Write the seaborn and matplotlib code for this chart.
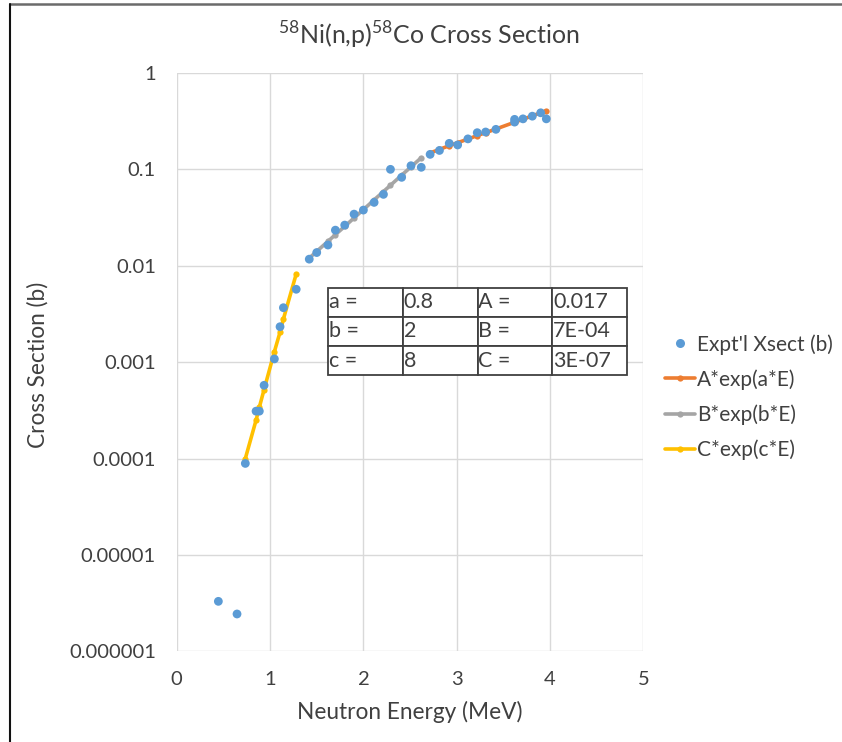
import numpy as np
import pandas as pd
import matplotlib
matplotlib.use('Agg')
import matplotlib.pyplot as plt
import seaborn as sns
from matplotlib.lines import Line2D

energy = [0.446, 0.646, 0.735, 0.85, 0.885, 0.936, 1.046, 1.107, 1.143, 1.28,
          1.42, 1.50, 1.62, 1.70, 1.80, 1.90, 2.00, 2.115, 2.215, 2.29,
          2.41, 2.51, 2.62, 2.715, 2.815, 2.92, 3.01, 3.12, 3.22, 3.31,
          3.42, 3.62, 3.62, 3.71, 3.81, 3.90, 3.96]
xsect = [3.3e-6, 2.44e-6, 8.9e-5, 3.1e-4, 3.1e-4, 5.75e-4, 1.08e-3, 2.33e-3, 3.67e-3, 5.7e-3,
         0.0117, 0.0137, 0.0164, 0.0234, 0.0264, 0.0343, 0.0378, 0.0454, 0.055, 0.100,
         0.0826, 0.109, 0.105, 0.143, 0.157, 0.186, 0.179, 0.207, 0.240, 0.244,
         0.260, 0.309, 0.330, 0.334, 0.356, 0.386, 0.334]

# Fit curves (values as drawn)
energy_a = [2.715, 2.815, 2.92, 3.01, 3.12, 3.22, 3.31, 3.42, 3.62, 3.71, 3.81, 3.90, 3.96]
fit_a = [0.148, 0.161, 0.176, 0.189, 0.206, 0.224, 0.240, 0.262, 0.308, 0.331, 0.359, 0.386, 0.405]
energy_b = [1.42, 1.50, 1.62, 1.70, 1.80, 1.90, 2.00, 2.115, 2.215, 2.29, 2.41, 2.51, 2.62]
fit_b = [0.0120, 0.0141, 0.0179, 0.0210, 0.0256, 0.0313, 0.0382, 0.0482, 0.0588, 0.0683, 0.0870, 0.106, 0.132]
energy_c = [0.735, 0.85, 0.885, 0.936, 1.046, 1.107, 1.143, 1.28]
fit_c = [1.0e-4, 2.5e-4, 3.4e-4, 5.2e-4, 1.28e-3, 2.05e-3, 2.8e-3, 8.2e-3]

# Parameter table
table_rows = [['a =', '0.8', 'A =', '0.017'],
              ['b =', '2', 'B =', '7E-04'],
              ['c =', '8', 'C =', '3E-07']]

y_ticks = [1e-6, 1e-5, 1e-4, 1e-3, 1e-2, 1e-1, 1]
y_labels = ['0.000001', '0.00001', '0.0001', '0.001', '0.01', '0.1', '1']
x_ticks = [0, 1, 2, 3, 4, 5]

sns.set_style('white')
plt.rcParams['font.family'] = ['Lato', 'DejaVu Sans']
plt.rcParams['mathtext.fontset'] = 'custom'
plt.rcParams['mathtext.rm'] = 'Lato'
text_col = '#404040'

fig = plt.figure(figsize=(8.42, 7.42), dpi=100)
ax = fig.add_axes([0.2099, 0.1222, 0.5542, 0.7795])

blue = '#5B9BD5'
orange = '#ED7D31'
gray = '#A5A5A5'
yellow = '#FFC000'

df_a = pd.DataFrame({'E': energy_a, 's': fit_a})
df_b = pd.DataFrame({'E': energy_b, 's': fit_b})
df_c = pd.DataFrame({'E': energy_c, 's': fit_c})
sns.lineplot(data=df_a, x='E', y='s', ax=ax, color=orange, lw=2.6, marker='o',
             markersize=4.5, markeredgewidth=0, zorder=2)
sns.lineplot(data=df_b, x='E', y='s', ax=ax, color=gray, lw=2.6, marker='o',
             markersize=4.5, markeredgewidth=0, zorder=2)
sns.lineplot(data=df_c, x='E', y='s', ax=ax, color=yellow, lw=2.6, marker='o',
             markersize=4.5, markeredgewidth=0, zorder=2)

df = pd.DataFrame({'E': energy, 's': xsect})
sns.scatterplot(data=df, x='E', y='s', ax=ax, color=blue, s=40, edgecolor='none', zorder=3)

ax.set_yscale('log')
ax.set_xlim(0, 5)
ax.set_ylim(1e-6, 1)
ax.set_yticks(y_ticks)
ax.set_yticklabels(y_labels)
ax.yaxis.set_minor_locator(matplotlib.ticker.NullLocator())
ax.set_xticks(x_ticks)
ax.set_xticklabels([str(v) for v in x_ticks])
ax.tick_params(axis='y', length=0, pad=15, labelsize=14.5, labelcolor=text_col)
ax.tick_params(axis='x', length=0, pad=14, labelsize=14.5, labelcolor=text_col)
ax.grid(True, color='#d9d9d9', lw=1)
for sp in ax.spines.values():
    sp.set_visible(False)
ax.set_xlabel('')
ax.set_ylabel('')

fig.text(410 / 842, 1 - 712 / 742, 'Neutron Energy (MeV)', ha='center', va='center',
         fontsize=16.3, color=text_col)
fig.text(38 / 842, 1 - 365 / 742, 'Cross Section (b)', ha='center', va='center',
         rotation=90, fontsize=16.3, color=text_col)
fig.text(429 / 842, 1 - 35 / 742, r'$^{58}$Ni(n,p)$^{58}$Co Cross Section', ha='center',
         va='center', fontsize=18, color=text_col)

# parameter table
tbl = ax.table(cellText=table_rows, cellLoc='left', bbox=[0.325, 0.477, 0.640, 0.152],
               zorder=4)
tbl.auto_set_font_size(False)
tbl.set_fontsize(15.5)
for (r, c), cell in tbl.get_celld().items():
    cell.set_edgecolor('#404040')
    cell.set_linewidth(1.3)
    cell.set_facecolor('white')
    cell.PAD = 0.01
    cell.get_text().set_color(text_col)

# legend
handles = [
    Line2D([], [], ls='none', marker='o', color=blue, markersize=6.5, markeredgewidth=0),
    Line2D([], [], color=orange, lw=2.6, marker='o', markersize=4.5, markeredgewidth=0),
    Line2D([], [], color=gray, lw=2.6, marker='o', markersize=4.5, markeredgewidth=0),
    Line2D([], [], color=yellow, lw=2.6, marker='o', markersize=4.5, markeredgewidth=0),
]
labels = ["Expt'l Xsect (b)", 'A*exp(a*E)', 'B*exp(b*E)', 'C*exp(c*E)']
fig.legend(handles, labels, loc='upper left', bbox_to_anchor=(665 / 842, 1 - 334 / 742),
           frameon=False, fontsize=15, handlelength=1.45, handletextpad=0.1,
           labelspacing=0.7, borderpad=0, borderaxespad=0, labelcolor=text_col)

# outer frame
fig.add_artist(Line2D([9.5 / 842, 1], [1 - 4 / 742, 1 - 4 / 742], transform=fig.transFigure,
                      color='#6b6b6b', lw=1.8))
fig.add_artist(Line2D([9.5 / 842, 9.5 / 842], [0, 1 - 4 / 742], transform=fig.transFigure,
                      color='#111111', lw=1.5))

fig.savefig('out.png', dpi=100)
